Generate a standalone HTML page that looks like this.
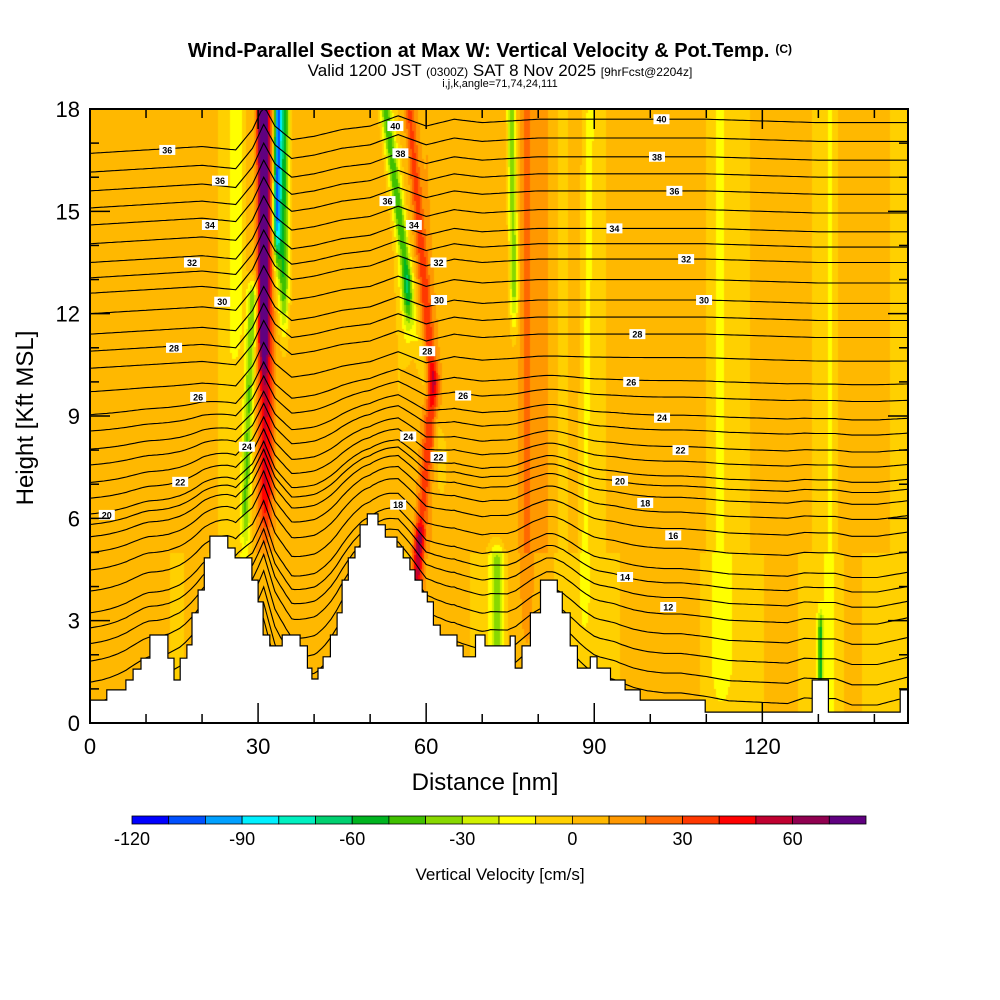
<!DOCTYPE html>
<html><head><meta charset="utf-8"><style>
html,body{margin:0;padding:0;background:#fff;}
#wrap{position:relative;width:1000px;height:1000px;font-family:"Liberation Sans",sans-serif;}
canvas{position:absolute;left:90px;top:109px;}
svg{position:absolute;left:0;top:0;}
</style></head><body>
<div id="wrap">
<canvas id="field" width="818" height="614"></canvas>
<svg id="svg" width="1000" height="1000"><defs><clipPath id="plotclip"><rect x="90" y="109" width="818" height="614"/></clipPath></defs></svg>
</div>
<script>
// ---- data ----
const binEdges=[-120,-110,-100,-90,-80,-70,-60,-50,-40,-30,-20,-10,0,10,20,30,40,50,60,70,80];
const binColors=["#0000ff","#0050ff","#00a0ff","#00f0ff","#00f0c0","#00d070","#00b420","#40c000","#88d800","#d0f000","#ffff00","#ffd000","#ffb800","#ff9800","#ff6800","#ff3800","#ff0000","#c00030","#900050","#600080"];
const cbTicks=[-120,-90,-60,-30,0,30,60];
const xTicks=[0,30,60,90,120];
const yTicks=[0,3,6,9,12,15,18];
const baseX=[0,5,10,15,20,25,30,35,40,45,50,55,60,65,70,75,80,85,90,95,100,105,110,115,120,125,130,135,140,146];
const baseW=[6,4,8,3,6,-5,10,5,8,4,6,0,10,6,2,8,12,6,-3,5,6,8,3,-5,4,6,-2,5,3,-4];
// streaks: xTop nm, xBot nm, hTop kft, hBot kft, amplitude cm/s, width nm
const streakXTop=[30.6,31.2,33.4,34.6,28.8,52.6,56.0,56.8,61.0,75.0,77.7,84,89,112,132,72.5,58.6,130.2,26];
const streakXBot=[30.8,31.2,33.2,34.4,27.6,56.5,62.5,61.0,58.5,75.5,77.7,84,88,112,132,72.5,57.8,130.2,26];
const streakHTop=[18,18,18,18,12.5,18,13,18,10,18,18,18,18,18,18,4.8,5.4,2.8,18];
const streakHBot=[12,7,15,13,6.5,13,8,10,5,13,4,3,4,2,1,2.6,3.8,1.4,12];
const streakAmp=[70,42,-105,-55,-45,-50,-16,28,26,-45,12,-12,-12,-12,-12,-35,32,-45,-16];
const streakWid=[0.8,1.2,0.7,0.9,0.9,1.0,1.2,1.0,1.0,0.8,1.0,1.3,1.0,1.8,1.2,1.3,0.9,0.5,1.3];
// terrain step function (nm start, kft)
const terrX=[0,3.0,6.4,7.7,9.1,10.7,13.9,15.0,16.1,17.3,18.2,19.3,20.4,21.4,24.6,25.9,28.9,30.0,30.9,32.1,34.3,37.5,38.8,39.6,40.7,41.6,42.9,44.1,45.0,46.1,47.3,48.2,49.5,51.4,52.7,54.8,55.9,57.1,58.0,59.3,60.2,61.3,62.5,65.5,66.6,68.8,70.5,75.0,75.9,77.1,78.6,80.4,83.4,84.3,85.7,87.0,89.3,90.5,92.9,95.5,98.2,109.8,128.9,131.8,144.6];
const terrH=[0.67,0.97,1.26,1.58,1.9,2.58,1.9,1.26,1.9,2.29,3.23,3.9,4.84,5.48,5.13,4.84,4.19,3.55,2.58,2.26,2.58,2.26,1.61,1.29,1.61,1.94,2.58,3.23,4.19,4.84,5.16,5.81,6.13,5.81,5.45,5.16,4.84,4.49,4.19,3.84,3.55,2.87,2.58,2.26,1.94,2.58,2.26,2.55,1.61,2.26,3.23,4.19,3.84,3.23,2.26,1.61,1.94,1.61,1.26,0.97,0.67,0.32,1.26,0.32,0.97];
// potential temperature levels and heights (kft) at reference column
const thetaLevels=[6,7,8,9,10,11,12,13,14,15,16,17,18,19,20,21,22,23,24,25,26,27,28,29,30,31,32,33,34,35,36,37,38,39,40];
const thetaH=[-0.1,0.5,1.1,1.7,2.3,2.9,3.4,3.85,4.28,4.9,5.5,6.0,6.45,6.8,7.1,7.55,8.0,8.5,8.95,9.5,10.0,10.7,11.4,11.9,12.4,13.0,13.6,14.05,14.5,15.05,15.6,16.1,16.6,17.15,17.7];
const dispX=[0,10,20,26,29,31,33,36,40,45,50,55,60,65,70,80,90,100,110,120,130,146];
const dispH=[-1.0,-0.9,-0.8,-0.9,-0.3,0.4,-0.2,-0.6,-0.5,-0.3,-0.2,0.1,-0.2,0,-0.1,0,0,0,0,-0.05,-0.1,-0.1];
const labelVals=[36,36,34,32,30,28,26,24,22,20,40,38,36,34,32,30,28,26,24,22,20,18,16,14,12,40,38,36,34,32,30,28,26,24,22,18];
const labelX=[13.8,23.2,21.4,18.2,23.6,15.0,19.3,28.0,16.1,3.0,102,101.2,104.3,93.6,106.4,109.6,97.7,96.6,102.1,105.4,94.6,99.1,104.1,95.5,103.2,54.5,55.4,53.1,57.8,62.2,62.3,60.2,66.6,56.8,62.2,55];
const labelH=[16.8,15.9,14.6,13.5,12.35,11.0,9.56,8.1,7.07,6.1,17.7,16.6,15.6,14.5,13.6,12.4,11.4,10.0,8.95,8.0,7.1,6.45,5.5,4.28,3.4,17.5,16.7,15.3,14.6,13.5,12.4,10.9,9.6,8.4,7.8,6.4];

// ---- axes ----
const X0=90,X1=908,Y0=723,Y1=109,XMAX=146,YMAX=18;
const sx=v=>X0+v*(X1-X0)/XMAX, sy=v=>Y0-v*(Y0-Y1)/YMAX;
function lerp(xs,ys,x){if(x<=xs[0])return ys[0];for(let i=1;i<xs.length;i++){if(x<=xs[i]){const t=(x-xs[i-1])/(xs[i]-xs[i-1]);return ys[i-1]+t*(ys[i]-ys[i-1]);}}return ys[ys.length-1];}
function terr(x){let h=terrH[0];for(let i=0;i<terrX.length;i++){if(x>=terrX[i])h=terrH[i];}return h;}
function terrSmooth(x){let s=0,n=0;for(let d=-4;d<=4;d+=0.5){s+=terr(Math.max(0,Math.min(XMAX,x+d)));n++;}return s/n;}
function sq(v){return v*v;}

// ---- field ----
const cv=document.getElementById('field'),ctx=cv.getContext('2d');
const W=818,H=614;
const rgb=binColors.map(c=>[parseInt(c.substr(1,2),16),parseInt(c.substr(3,2),16),parseInt(c.substr(5,2),16)]);
const img=ctx.createImageData(W,H);
for(let py=0;py<H;py+=2){const h=(H-py)/H*YMAX;
 for(let px=0;px<W;px+=2){const x=px/W*XMAX;
  let w=lerp(baseX,baseW,x);
  if(h<5)w-=4;
  for(let k=0;k<streakAmp.length;k++){
   const ht=streakHTop[k],hb=streakHBot[k];
   let f=1; if(h>ht)f=Math.exp(-sq((h-ht)/0.5)); if(h<hb)f=Math.exp(-sq((hb-h)/1.5));
   if(f<0.01)continue;
   const tt=(ht-h)/(ht-hb);const cx=streakXTop[k]+(streakXBot[k]-streakXTop[k])*Math.max(0,Math.min(1,tt));
   w+=streakAmp[k]*f*Math.exp(-sq((x-cx)/streakWid[k]));
  }
  let bi=binColors.length-1;for(let i=0;i<binColors.length;i++){if(w<binEdges[i+1]){bi=i;break;}}
  const c=rgb[bi];
  for(let dy=0;dy<2;dy++)for(let dx=0;dx<2;dx++){const o=((py+dy)*W+px+dx)*4;img.data[o]=c[0];img.data[o+1]=c[1];img.data[o+2]=c[2];img.data[o+3]=255;}
 }}
ctx.putImageData(img,0,0);

// ---- svg ----
const svg=document.getElementById('svg');const NS='http://www.w3.org/2000/svg';
function el(t,a,p){const e=document.createElementNS(NS,t);for(const k in a)e.setAttribute(k,a[k]);(p||svg).appendChild(e);return e;}
// contours
const gC=el('g',{'clip-path':'url(#plotclip)'});


thetaLevels.forEach((lv,i)=>{let d='';
 for(let x=0;x<=XMAX;x+=0.5){const h0=thetaH[i];
  const low=Math.max(0,1-h0/9);
  let h=h0+lerp(dispX,dispH,x)*(1+low*0.6)+terrSmooth(x)*0.6*Math.max(0,1-h0/11);
  h=Math.max(0,Math.min(h,YMAX));
  d+=(x===0?'M':'L')+sx(x).toFixed(1)+','+sy(h).toFixed(1);}
 const p=el('path',{d:d,fill:'none',stroke:'#000','stroke-width':1.1},gC);
 
 
});
// terrain
let td='M'+sx(0)+','+sy(0);
terrX.forEach((x,i)=>{const xe=i+1<terrX.length?terrX[i+1]:XMAX;td+='L'+sx(x).toFixed(1)+','+sy(terrH[i]).toFixed(1)+'L'+sx(xe).toFixed(1)+','+sy(terrH[i]).toFixed(1);});
td+='L'+sx(XMAX)+','+sy(0)+'Z';
const tp=el('path',{d:td,fill:'#fff',stroke:'#000','stroke-width':1.2});


// contour labels
labelVals.forEach((v,i)=>{const g=el('g',{});
 
 
 const cx=sx(labelX[i]),cy=sy(labelH[i]);
 el('rect',{x:cx-8,y:cy-5,width:16,height:10,fill:'#fff'},g);
 const t=el('text',{x:cx,y:cy+3.5,'font-size':9,'font-weight':'bold','text-anchor':'middle'},g);t.textContent=v;});
// frame
const fr=el('rect',{x:X0,y:Y1,width:X1-X0,height:Y0-Y1,fill:'none',stroke:'#000','stroke-width':2});


// ticks
const gT=el('g',{stroke:'#000','stroke-width':1.5});


for(let v=0;v<=XMAX;v+=10){const L=v%30===0?20:9;el('line',{x1:sx(v),x2:sx(v),y1:Y0,y2:Y0-L},gT);el('line',{x1:sx(v),x2:sx(v),y1:Y1,y2:Y1+L},gT);}
for(let v=0;v<=YMAX;v+=1){const L=v%3===0?20:9;el('line',{x1:X0,x2:X0+L,y1:sy(v),y2:sy(v)},gT);el('line',{x1:X1,x2:X1-L,y1:sy(v),y2:sy(v)},gT);}
xTicks.forEach(v=>{const t=el('text',{x:sx(v),y:754,'font-size':22,'text-anchor':'middle'});t.textContent=v;
 
 });
yTicks.forEach(v=>{const t=el('text',{x:80,y:sy(v)+8,'font-size':22,'text-anchor':'end'});t.textContent=v;
 
 });
// colorbar
const CB0=132,CB1=866;const cw=(CB1-CB0)/binColors.length;
const gB=el('g',{});


binColors.forEach((c,i)=>{el('rect',{x:CB0+i*cw,y:816,width:cw,height:8,fill:c,stroke:'#000','stroke-width':0.8},gB);});
cbTicks.forEach(v=>{const x=CB0+(v-binEdges[0])/(binEdges[binEdges.length-1]-binEdges[0])*(CB1-CB0);
 const t=el('text',{x:x,y:845,'font-size':18,'text-anchor':'middle'},gB);t.textContent=v;});
</script>
<svg width="1000" height="1000" style="position:absolute;left:0;top:0;pointer-events:none">
<text x="490" y="57" font-family="Liberation Sans" font-size="20" font-weight="bold" text-anchor="middle">Wind-Parallel Section at Max W: Vertical Velocity &amp; Pot.Temp.<tspan font-size="12" dx="6" dy="-4">(C)</tspan></text>
<text x="500" y="76" font-family="Liberation Sans" font-size="17" text-anchor="middle">Valid 1200 JST <tspan font-size="12">(0300Z)</tspan> SAT 8 Nov 2025 <tspan font-size="12">[9hrFcst@2204z]</tspan></text>
<text x="500" y="87" font-family="Liberation Sans" font-size="11" text-anchor="middle">i,j,k,angle=71,74,24,111</text>
<text x="485" y="790" font-family="Liberation Sans" font-size="24" text-anchor="middle">Distance [nm]</text>
<text transform="translate(33,418) rotate(-90)" font-family="Liberation Sans" font-size="24" text-anchor="middle">Height [Kft MSL]</text>
<text x="500" y="880" font-family="Liberation Sans" font-size="17" text-anchor="middle">Vertical Velocity [cm/s]</text>
</svg>
</body></html>
